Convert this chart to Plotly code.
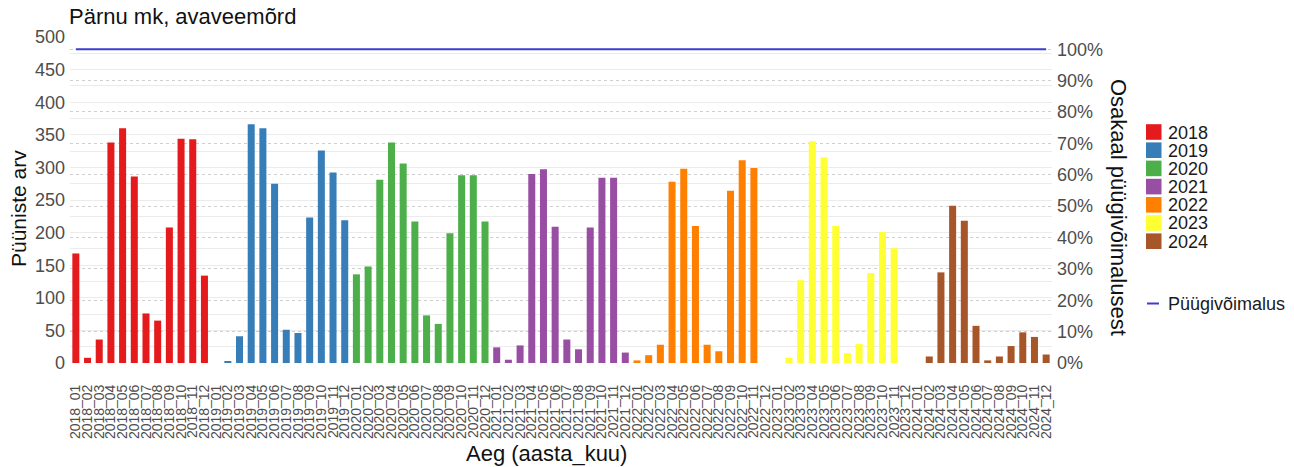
import plotly.graph_objects as go

years = ["2018", "2019", "2020", "2021", "2022", "2023", "2024"]
months = ["01", "02", "03", "04", "05", "06", "07", "08", "09", "10", "11", "12"]
categories = [f"{y}_{m}" for y in years for m in months]

counts_2018 = [168, 8, 36, 338, 360, 286, 76, 65, 208, 344, 343, 134]
counts_2019 = [0, 2, 41, 366, 360, 275, 51, 46, 223, 326, 292, 219]
counts_2020 = [136, 148, 281, 338, 306, 217, 73, 60, 199, 288, 288, 217]
counts_2021 = [24, 5, 27, 290, 297, 209, 36, 21, 208, 284, 284, 16]
counts_2022 = [4, 12, 28, 278, 298, 210, 28, 18, 264, 311, 299, 0]
counts_2023 = [0, 8, 127, 340, 315, 210, 15, 29, 138, 201, 176, 0]
counts_2024 = [0, 10, 139, 241, 218, 57, 4, 10, 26, 47, 40, 13]

series = {
    "2018": counts_2018,
    "2019": counts_2019,
    "2020": counts_2020,
    "2021": counts_2021,
    "2022": counts_2022,
    "2023": counts_2023,
    "2024": counts_2024,
}
colors = {
    "2018": "#E41A1C",
    "2019": "#377EB8",
    "2020": "#4DAF4A",
    "2021": "#984EA3",
    "2022": "#FF7F00",
    "2023": "#FFFF33",
    "2024": "#A65628",
}

capacity_share = [1.0] * len(categories)
capacity_name = "Püügivõimalus"
line_color = "#3D3DD0"

FONT = "Liberation Sans, Arial, sans-serif"

# plot-area geometry (pixels) used to place the hand-built legend and titles
W, H = 1294, 467
L, R, T, B = 70, 242, 37, 104
PW, PH = W - L - R, H - T - B


def px_x(px):
    return (px - L) / PW


def px_y(py):
    return (H - B - py) / PH


fig = go.Figure()
for y in years:
    fig.add_trace(go.Bar(
        x=[f"{y}_{m}" for m in months],
        y=series[y],
        name=y,
        marker=dict(color=colors[y], line=dict(width=0)),
        showlegend=False,
    ))

fig.add_trace(go.Scatter(
    x=categories,
    y=capacity_share,
    name=capacity_name,
    mode="lines",
    line=dict(color=line_color, width=2),
    yaxis="y2",
    showlegend=False,
))

# legend: coloured squares for the years, a short line for capacity
shapes = []
annotations = []
for i, y in enumerate(years):
    cy = 132 + 18.2 * i
    shapes.append(dict(type="rect", xref="paper", yref="paper",
                       x0=px_x(1146), x1=px_x(1161.5),
                       y0=px_y(cy + 7.8), y1=px_y(cy - 7.8),
                       fillcolor=colors[y], line=dict(width=0)))
    annotations.append(dict(text=y, xref="paper", yref="paper",
                            x=px_x(1166), y=px_y(cy + 0.5), xanchor="left", yanchor="middle",
                            showarrow=False, font=dict(size=18, color="#1A1A1A")))
shapes.append(dict(type="line", xref="paper", yref="paper",
                   x0=px_x(1147), x1=px_x(1159), y0=px_y(303.5), y1=px_y(303.5),
                   line=dict(color=line_color, width=2)))
annotations.append(dict(text=capacity_name, xref="paper", yref="paper",
                        x=px_x(1166), y=px_y(304), xanchor="left", yanchor="middle",
                        showarrow=False, font=dict(size=18, color="#1A1A1A")))

annotations += [
    dict(text="Pärnu mk, avaveemõrd", xref="paper", yref="paper",
         x=px_x(67), y=px_y(17), xanchor="left", yanchor="middle",
         showarrow=False, font=dict(size=22, color="#111111")),
    dict(text="Püüniste arv", xref="paper", yref="paper",
         x=px_x(18), y=px_y(209), xanchor="center", yanchor="middle",
         textangle=-90, showarrow=False, font=dict(size=21, color="#111111")),
    dict(text="Osakaal püügivõimalusest", xref="paper", yref="paper",
         x=px_x(1119), y=px_y(207), xanchor="center", yanchor="middle",
         textangle=90, showarrow=False, font=dict(size=22, color="#111111")),
    dict(text="Aeg (aasta_kuu)", xref="paper", yref="paper",
         x=px_x(546), y=px_y(453), xanchor="center", yanchor="middle",
         showarrow=False, font=dict(size=22, color="#111111")),
]

fig.update_layout(
    width=W,
    height=H,
    margin=dict(l=L, r=R, t=T, b=B),
    paper_bgcolor="white",
    plot_bgcolor="white",
    barmode="overlay",
    bargap=0.4,
    showlegend=False,
    font=dict(family=FONT, color="#4D4D4D"),
    xaxis=dict(
        type="category",
        categoryorder="array",
        categoryarray=categories,
        tickmode="array",
        tickvals=categories,
        ticktext=categories,
        range=[-0.5, len(categories) - 0.5],
        tickangle=-90,
        tickfont=dict(size=14, color="#4D4D4D"),
        showgrid=False,
        ticks="outside",
        ticklen=15,
        tickcolor="rgba(0,0,0,0)",
        zeroline=False,
    ),
    yaxis=dict(
        range=[0, 500],
        dtick=50,
        tickfont=dict(size=18, color="#4D4D4D"),
        gridcolor="#EBEBEB",
        gridwidth=1,
        minor=dict(dtick=25, showgrid=True, gridcolor="#EBEBEB", gridwidth=1),
        zeroline=False,
        ticks="",
        ticklabelstandoff=4,
    ),
    yaxis2=dict(
        overlaying="y",
        side="right",
        range=[0, 1.039],
        dtick=0.1,
        tickformat=".0%",
        tickfont=dict(size=18, color="#4D4D4D"),
        gridcolor="#CFCFCF",
        griddash="dot",
        gridwidth=1,
        zeroline=False,
        ticks="",
        ticklabelstandoff=4,
    ),
    shapes=shapes,
    annotations=annotations,
)

fig.write_html("out.html")
